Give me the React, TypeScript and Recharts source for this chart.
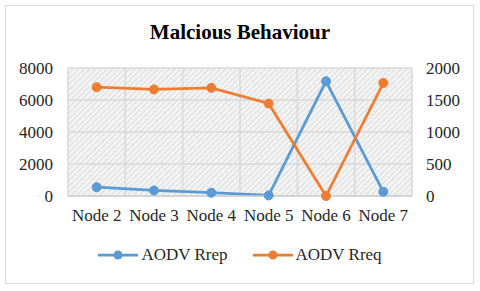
import { CartesianGrid, Legend, Line, LineChart, XAxis, YAxis } from "recharts";

const nodes = ["Node 2", "Node 3", "Node 4", "Node 5", "Node 6", "Node 7"];
const rrep = [550, 345, 205, 35, 7170, 265];
const rreq = [1700, 1665, 1690, 1445, 0, 1765];
const leftTicks = [0, 2000, 4000, 6000, 8000];
const rightTicks = [0, 500, 1000, 1500, 2000];
const bandEdges = [0, 1, 2, 3, 4, 5, 6];

const COLORS = {
  rrep: "#5B9BD5",
  rreq: "#ED7D31",
  grid: "#d9d9d9",
  axis: "#cfcfcf",
  text: "#262626",
  border: "#d9d9d9",
};

const FONT = "Liberation Serif";

const data = nodes.map((name, i) => ({ name, idx: i + 0.5, rrep: rrep[i], rreq: rreq[i] }));

function makeTick(anchor: "start" | "middle" | "end", dy: string) {
  return function Tick({ x, y, payload }: any) {
    return (
      <text x={x} y={y} dy={dy} textAnchor={anchor} fill={COLORS.text} fontSize={17} fontFamily={FONT}>
        {payload.value}
      </text>
    );
  };
}

const BottomTick = makeTick("middle", "0.71em");
const LeftTick = makeTick("end", "0.355em");
const RightTick = makeTick("start", "0.355em");
const EmptyTick = () => <g />;

function LegendContent({ payload }: any) {
  return (
    <div style={{ display: "flex", justifyContent: "center", gap: 25, fontFamily: FONT, fontSize: 17, color: COLORS.text }}>
      {(payload || []).map((p: any) => (
        <div key={p.value} style={{ display: "flex", alignItems: "center", gap: 3 }}>
          <svg width={40} height={12}>
            <line x1={0} y1={6} x2={40} y2={6} stroke={p.color} strokeWidth={2.75} />
            <circle cx={20} cy={6} r={4.5} fill={p.color} />
          </svg>
          <span>{p.value}</span>
        </div>
      ))}
    </div>
  );
}

export default function App() {
  return (
    <div style={{ position: "absolute", left: 0, top: 0, width: 480, height: 291, background: "#fff" }}>
      <div
        style={{
          position: "absolute",
          left: 5,
          top: 5,
          width: 467,
          height: 277,
          border: `1.5px solid ${COLORS.border}`,
        }}
      />
      <div
        style={{
          position: "absolute",
          left: 0,
          top: 20,
          width: 480,
          textAlign: "center",
          fontFamily: FONT,
          fontWeight: "bold",
          fontSize: 21,
          color: "#000",
        }}
      >
        Malcious Behaviour
      </div>
      <LineChart
        width={480}
        height={291}
        data={data}
        margin={{ top: 68, right: 0, left: 0, bottom: 24 }}
        style={{ position: "absolute", left: 0, top: 0 }}
      >
        <defs>
          <pattern id="hatch" width={4} height={4} patternUnits="userSpaceOnUse" patternTransform="rotate(45)">
            <rect width={4} height={4} fill="#f3f3f3" />
            <line x1={0} y1={0} x2={0} y2={4} stroke="#d2d2d2" strokeWidth={1.3} />
          </pattern>
        </defs>
        <CartesianGrid
          xAxisId="grid"
          yAxisId="left"
          fill="url(#hatch)"
          stroke={COLORS.grid}
          strokeWidth={1.5}
        />
        <XAxis
          xAxisId="grid"
          type="number"
          dataKey="idx"
          domain={[0, 6]}
          ticks={bandEdges}
          height={0}
          axisLine={false}
          tickLine={{ stroke: COLORS.axis, strokeWidth: 1.5 }}
          tickSize={5}
          tick={EmptyTick}
        />
        <XAxis
          dataKey="name"
          scale="band"
          height={49}
          axisLine={{ stroke: COLORS.axis, strokeWidth: 1.5 }}
          tickLine={false}
          tickMargin={7}
          tick={BottomTick}
          interval={0}
        />
        <YAxis
          yAxisId="left"
          width={68}
          domain={[0, 8000]}
          ticks={leftTicks}
          axisLine={false}
          tickLine={false}
          tickMargin={9}
          tick={LeftTick}
        />
        <YAxis
          yAxisId="right"
          orientation="right"
          width={68}
          domain={[0, 2000]}
          ticks={rightTicks}
          axisLine={false}
          tickLine={false}
          tickMargin={8}
          tick={RightTick}
        />
        <Legend verticalAlign="bottom" height={22} content={<LegendContent />} />
        <Line
          yAxisId="left"
          dataKey="rrep"
          name="AODV Rrep"
          stroke={COLORS.rrep}
          strokeWidth={2.75}
          dot={{ r: 4.5, fill: COLORS.rrep, stroke: COLORS.rrep, strokeWidth: 1 }}
          isAnimationActive={false}
        />
        <Line
          yAxisId="right"
          dataKey="rreq"
          name="AODV Rreq"
          stroke={COLORS.rreq}
          strokeWidth={2.75}
          dot={{ r: 4.5, fill: COLORS.rreq, stroke: COLORS.rreq, strokeWidth: 1 }}
          isAnimationActive={false}
        />
      </LineChart>
    </div>
  );
}
